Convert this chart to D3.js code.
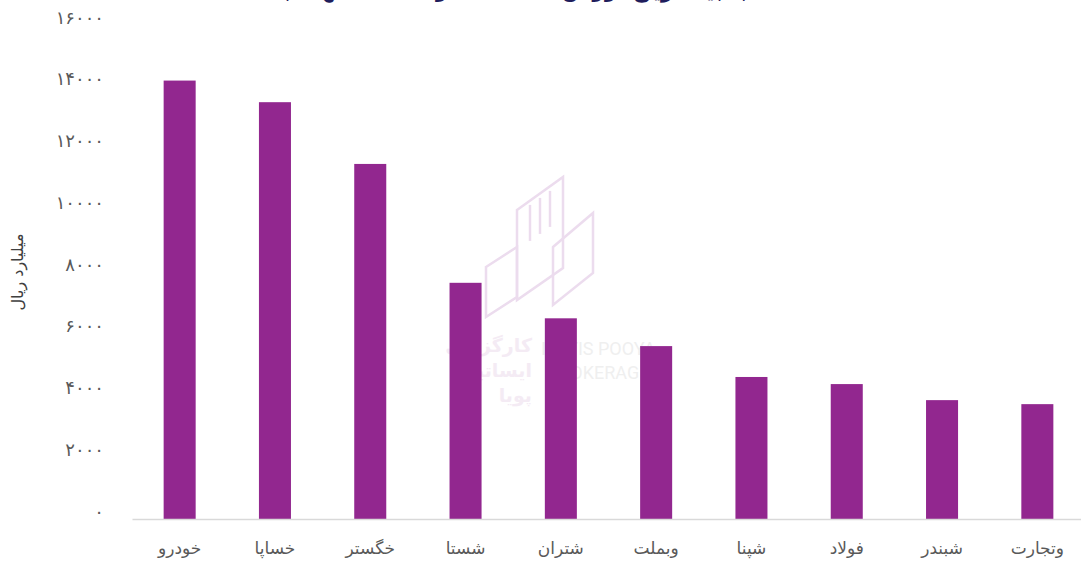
<!DOCTYPE html>
<html>
<head>
<meta charset="utf-8">
<script src="https://cdn.jsdelivr.net/npm/d3@7"></script>
<style>
  body { margin: 0; background: #fff; }
  svg { display: block; font-family: "DejaVu Sans", sans-serif; }
</style>
</head>
<body>
<svg id="chart"></svg>
<script>
// bars, left to right
const symbols = ['خودرو', 'خساپا', 'خگستر', 'شستا', 'شتران', 'وبملت', 'شپنا', 'فولاد', 'شبندر', 'وتجارت'];
const values = [14200, 13500, 11500, 7650, 6500, 5600, 4600, 4370, 3850, 3720];
const yTicks = [0, 2000, 4000, 6000, 8000, 10000, 12000, 14000, 16000];
const yTitle = 'میلیارد ریال';
const title = 'نمادهای با بیشترین ارزش معاملات در هفته منتهی به ۱۴۰۲/۰۷/۱۲';

const width = 1081;
const height = 568;
const margin = { top: 25, right: -4, bottom: 49, left: 132 };

const faDigits = s => String(s).replace(/\d/g, d => '۰۱۲۳۴۵۶۷۸۹'[d]);

const svg = d3.select('#chart')
  .attr('width', width)
  .attr('height', height);

const x = d3.scaleBand()
  .domain(symbols)
  .range([margin.left, width - margin.right])
  .paddingInner(0.664)
  .paddingOuter(0.332);

const y = d3.scaleLinear()
  .domain([0, 16000])
  .range([height - margin.bottom, margin.top]);

// watermark (behind bars)
const wm = svg.append('g').attr('class', 'watermark')
  .attr('fill', 'none')
  .attr('stroke', '#ecdcee')
  .attr('stroke-width', 2.5);
wm.append('polygon').attr('points', '486,267 517,247 517,297 486,317');
wm.append('polygon').attr('points', '517,210 563,177 563,268 517,300');
wm.append('polygon').attr('points', '553,247 593,213 593,273 553,305');
[530, 540, 550].forEach(lx => {
  wm.append('line').attr('x1', lx).attr('x2', lx)
    .attr('y1', 214 - (lx - 517) * 0.7).attr('y2', 250 - (lx - 517) * 0.7);
});
const wmText = svg.append('g')
  .attr('fill', '#f4ebf4')
  .attr('font-weight', 'bold')
  .attr('font-size', 19);
[['کارگزاری', 352], ['ایساتیس', 377], ['پویا', 402]].forEach(([t, ty]) => {
  wmText.append('text').attr('x', 532).attr('y', ty)
    .attr('text-anchor', 'end').text(t);
});
const wmEn = svg.append('g')
  .attr('fill', '#efefef')
  .attr('font-family', 'Roboto, sans-serif')
  .attr('font-size', 18);
wmEn.append('text').attr('x', 541).attr('y', 355).text('ISATIS POOYA');
wmEn.append('text').attr('x', 548).attr('y', 379).text('BROKERAGE');

// bars
svg.append('g')
  .selectAll('rect')
  .data(values)
  .join('rect')
  .attr('x', (d, i) => x(symbols[i]))
  .attr('y', d => y(d))
  .attr('width', x.bandwidth())
  .attr('height', d => y(0) - y(d))
  .attr('fill', '#92278f');

// x axis
const xAxis = svg.append('g')
  .attr('transform', `translate(0,${y(0)})`)
  .call(d3.axisBottom(x).tickSize(0).tickPadding(23));
xAxis.select('.domain').attr('stroke', '#d9d9d9').attr('stroke-width', 1.5);
xAxis.selectAll('text')
  .attr('font-size', 17)
  .attr('fill', '#595959')
  .attr('font-family', '"DejaVu Sans", sans-serif');

// y axis
const yAxis = svg.append('g')
  .attr('transform', `translate(${margin.left - 28},0)`)
  .call(d3.axisLeft(y).tickValues(yTicks).tickSize(0).tickPadding(0)
    .tickFormat(d => faDigits(d)));
yAxis.select('.domain').remove();
yAxis.selectAll('text')
  .attr('font-size', 18)
  .attr('fill', '#595959')
  .attr('dy', '-0.1em')
  .attr('font-family', '"DejaVu Sans", sans-serif');

svg.append('text')
  .attr('transform', `translate(23,${(y(0) + y(16000)) / 2}) rotate(-90)`)
  .attr('text-anchor', 'middle')
  .attr('font-size', 16)
  .attr('fill', '#404040')
  .text(yTitle);

// title, mostly cut off at the top edge as in the source
svg.append('text')
  .attr('x', 490)
  .attr('y', -3)
  .attr('text-anchor', 'middle')
  .attr('font-size', 22)
  .attr('font-weight', 'bold')
  .attr('fill', '#1f1d5c')
  .text(title);
</script>
</body>
</html>
